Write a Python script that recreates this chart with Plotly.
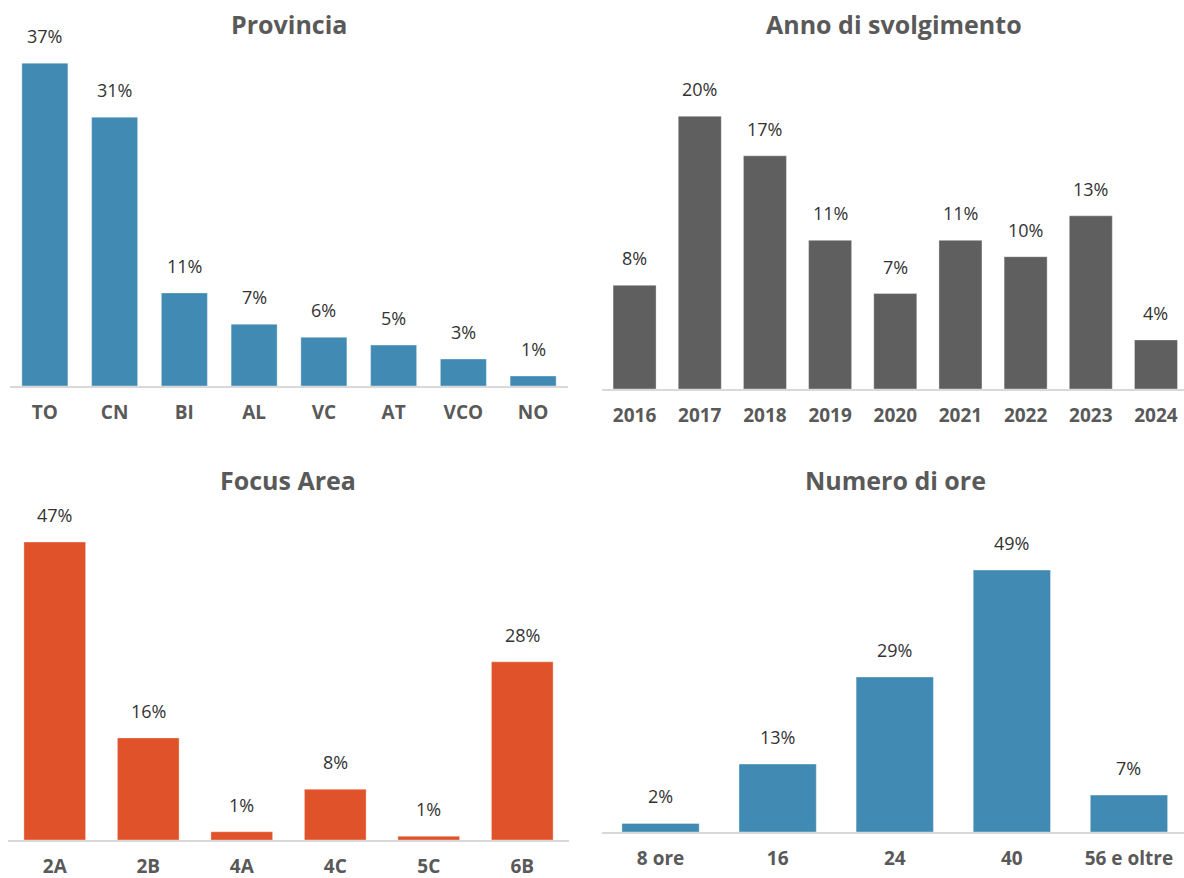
import plotly.graph_objects as go

W, H = 1184, 878

prov_cats = ["TO", "CN", "BI", "AL", "VC", "AT", "VCO", "NO"]
prov_vals = [37.1, 30.9, 10.7, 7.1, 5.6, 4.7, 3.1, 1.15]
prov_labels = ["37%", "31%", "11%", "7%", "6%", "5%", "3%", "1%"]

anno_cats = ["2016", "2017", "2018", "2019", "2020", "2021", "2022", "2023", "2024"]
anno_vals = [7.6, 20.0, 17.1, 10.9, 7.0, 10.9, 9.7, 12.7, 3.6]
anno_labels = ["8%", "20%", "17%", "11%", "7%", "11%", "10%", "13%", "4%"]

focus_cats = ["2A", "2B", "4A", "4C", "5C", "6B"]
focus_vals = [47.0, 16.1, 1.3, 8.0, 0.6, 28.1]
focus_labels = ["47%", "16%", "1%", "8%", "1%", "28%"]

ore_cats = ["8 ore", "16", "24", "40", "56 e oltre"]
ore_vals = [1.6, 12.7, 29.0, 49.0, 6.9]
ore_labels = ["2%", "13%", "29%", "49%", "7%"]

BLUE = "#418AB3"
GRAY = "#5F5F5F"
ORANGE = "#E0522A"

panels = [
    # title, cats, vals, labels, color, x-domain px, axis y px, top y px, ymax, title x px, title y px, right-pad cats
    ("Provincia", prov_cats, prov_vals, prov_labels, BLUE, (10, 568), 386, 38, 40, 289, 24, 0.0),
    ("Anno di svolgimento", anno_cats, anno_vals, anno_labels, GRAY, (602, 1184), 389, 89, 22, 894, 24, -0.07),
    ("Focus Area", focus_cats, focus_vals, focus_labels, ORANGE, (8, 569), 840, 523, 50, 288, 480, 0.0),
    ("Numero di ore", ore_cats, ore_vals, ore_labels, BLUE, (602, 1184), 832, 554, 52, 895, 480, -0.03),
]

FONT = "Open Sans"
fig = go.Figure()
annotations = []
layout = {}
for i, (title, cats, vals, labels, color, (x0, x1), yax, ytop, ymax, tx, ty, pad) in enumerate(panels):
    n = i + 1
    xa = "x" if n == 1 else f"x{n}"
    ya = "y" if n == 1 else f"y{n}"
    fig.add_trace(go.Bar(
        x=cats, y=vals, xaxis=xa, yaxis=ya, width=0.66,
        marker=dict(color=color, line=dict(color="rgba(255,255,255,0.35)", width=1)),
        hoverinfo="skip", showlegend=False,
    ))
    layout[f"xaxis{'' if n == 1 else n}"] = dict(
        domain=[x0 / W, x1 / W], anchor=ya, type="category",
        range=[-0.5, len(cats) - 0.5 + pad], autorange=False, automargin=False,
        showline=True, linecolor="#D9D9D9", linewidth=2, showgrid=False,
        zeroline=False, ticks="", ticklabelstandoff=8, tickangle=0,
        tickfont=dict(family=FONT, size=19, color="#595959", weight="bold"),
    )
    layout[f"yaxis{'' if n == 1 else n}"] = dict(
        domain=[(H - yax) / H, (H - ytop) / H], anchor=xa, range=[0, ymax],
        autorange=False, automargin=False,
        visible=False, showgrid=False, zeroline=False,
    )
    for idx, (v, t) in enumerate(zip(vals, labels)):
        annotations.append(dict(
            x=idx, y=v, xref=xa, yref=ya, text=t, showarrow=False,
            yanchor="bottom", yshift=13,
            font=dict(family=FONT, size=18, color="#333333"),
        ))
    annotations.append(dict(
        x=tx / W, y=(H - ty) / H,
        xref="paper", yref="paper", text=f"<b>{title}</b>", showarrow=False,
        xanchor="center", yanchor="middle",
        font=dict(family=FONT, size=25, color="#595959"),
    ))

fig.update_layout(
    width=W, height=H, margin=dict(l=0, r=0, t=0, b=0, autoexpand=False),
    paper_bgcolor="white", plot_bgcolor="white",
    annotations=annotations, **layout,
)
fig.write_html(
    "out.html",
    config={"displayModeBar": False, "staticPlot": True},
    post_script="document.body.style.margin='0';document.body.style.overflow='hidden';",
)
